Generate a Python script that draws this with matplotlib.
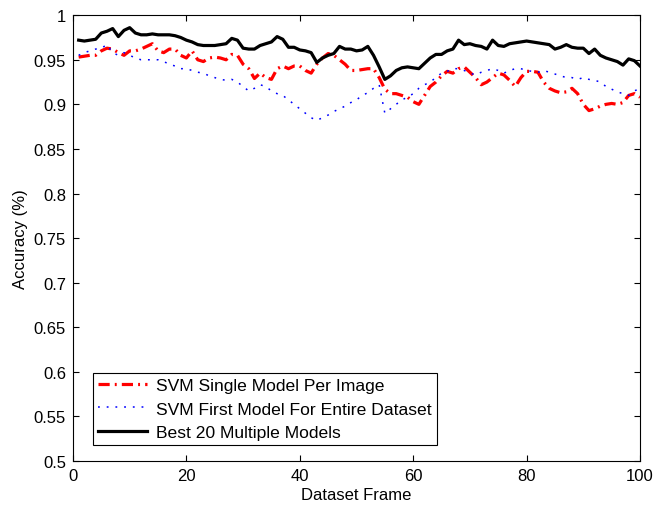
import numpy as np
import matplotlib
matplotlib.use("Agg")
import matplotlib.pyplot as plt

plt.rcParams['font.family'] = ['Liberation Sans', 'DejaVu Sans']

frames = np.arange(1, 101)

svm_single = [0.953, 0.954, 0.955, 0.955, 0.960, 0.963, 0.962, 0.958, 0.955, 0.960,
              0.960, 0.962, 0.965, 0.968, 0.960, 0.958, 0.962, 0.962, 0.955, 0.952,
              0.960, 0.950, 0.948, 0.952, 0.953, 0.952, 0.950, 0.956, 0.955, 0.945,
              0.940, 0.929, 0.935, 0.930, 0.928, 0.940, 0.943, 0.940, 0.943, 0.943,
              0.938, 0.935, 0.945, 0.952, 0.957, 0.955, 0.950, 0.945, 0.938, 0.938,
              0.939, 0.940, 0.940, 0.930, 0.917, 0.912, 0.912, 0.910, 0.908, 0.903,
              0.900, 0.910, 0.920, 0.925, 0.932, 0.937, 0.935, 0.940, 0.942, 0.936,
              0.930, 0.922, 0.925, 0.930, 0.935, 0.933, 0.927, 0.920, 0.930, 0.937,
              0.937, 0.936, 0.925, 0.918, 0.915, 0.913, 0.914, 0.918, 0.912, 0.900,
              0.893, 0.895, 0.898, 0.900, 0.901, 0.900, 0.902, 0.910, 0.912, 0.908]

svm_first = [0.955, 0.958, 0.960, 0.962, 0.963, 0.967, 0.958, 0.955, 0.958, 0.955,
             0.952, 0.950, 0.950, 0.950, 0.950, 0.948, 0.945, 0.943, 0.940, 0.940,
             0.938, 0.936, 0.935, 0.932, 0.930, 0.928, 0.927, 0.928, 0.925, 0.920,
             0.915, 0.918, 0.922, 0.920, 0.915, 0.912, 0.910, 0.905, 0.900, 0.895,
             0.890, 0.885, 0.882, 0.885, 0.888, 0.892, 0.895, 0.898, 0.902, 0.905,
             0.910, 0.913, 0.918, 0.922, 0.890, 0.895, 0.900, 0.905, 0.908, 0.912,
             0.918, 0.922, 0.925, 0.930, 0.935, 0.937, 0.940, 0.940, 0.938, 0.935,
             0.933, 0.936, 0.938, 0.940, 0.938, 0.935, 0.938, 0.940, 0.940, 0.938,
             0.937, 0.936, 0.938, 0.936, 0.934, 0.932, 0.930, 0.930, 0.928, 0.930,
             0.928, 0.927, 0.925, 0.920, 0.917, 0.914, 0.912, 0.910, 0.915, 0.918]

best20 = [0.972, 0.971, 0.972, 0.973, 0.980, 0.982, 0.985, 0.976, 0.983, 0.986,
          0.980, 0.978, 0.978, 0.979, 0.978, 0.978, 0.978, 0.977, 0.975, 0.972,
          0.970, 0.967, 0.966, 0.966, 0.966, 0.967, 0.968, 0.974, 0.972, 0.963,
          0.962, 0.962, 0.966, 0.968, 0.970, 0.976, 0.973, 0.964, 0.964, 0.961,
          0.960, 0.958, 0.947, 0.952, 0.955, 0.957, 0.965, 0.962, 0.962, 0.960,
          0.961, 0.965, 0.955, 0.942, 0.928, 0.932, 0.938, 0.941, 0.942, 0.941,
          0.940, 0.946, 0.952, 0.956, 0.956, 0.960, 0.962, 0.972, 0.967, 0.968,
          0.966, 0.965, 0.962, 0.972, 0.966, 0.965, 0.968, 0.969, 0.970, 0.971,
          0.970, 0.969, 0.968, 0.967, 0.962, 0.964, 0.967, 0.964, 0.963, 0.963,
          0.957, 0.962, 0.955, 0.952, 0.950, 0.948, 0.944, 0.951, 0.949, 0.943]

labels = ['SVM Single Model Per Image', 'SVM First Model For Entire Dataset',
          'Best 20 Multiple Models']

fig = plt.figure(figsize=(6.54, 5.06), dpi=100)
ax = fig.add_axes([0.1116, 0.087, 0.867, 0.881])

ax.plot(frames, svm_single, color='red', lw=2.3, linestyle=(0, (3.5, 1.6, 0.6, 1.6)),
        label=labels[0])
ax.plot(frames, svm_first, color='blue', lw=1.1, linestyle=(0, (1.2, 4.5)),
        label=labels[1])
ax.plot(frames, best20, color='black', lw=2.3, label=labels[2])

ax.set_xlim(0, 100)
ax.set_ylim(0.5, 1.0)
ax.set_xticks([0, 20, 40, 60, 80, 100])
ax.set_yticks(np.arange(0.5, 1.001, 0.05))
ax.set_yticklabels(['0.5', '0.55', '0.6', '0.65', '0.7', '0.75', '0.8', '0.85',
                    '0.9', '0.95', '1'])
ax.tick_params(direction='in', top=True, right=True, labelsize=12, length=4, pad=5)
ax.set_xlabel('Dataset Frame', fontsize=12, labelpad=3)
ax.set_ylabel('Accuracy (%)', fontsize=12, labelpad=4)

leg = ax.legend(loc='lower left', bbox_to_anchor=(0.035, 0.036), fontsize=12.6,
                fancybox=False, edgecolor='black', framealpha=1,
                handlelength=2.8, borderpad=0.3, labelspacing=0.45,
                handletextpad=0.5, borderaxespad=0)
leg.get_frame().set_linewidth(0.8)

fig.savefig('out.png', dpi=100)
